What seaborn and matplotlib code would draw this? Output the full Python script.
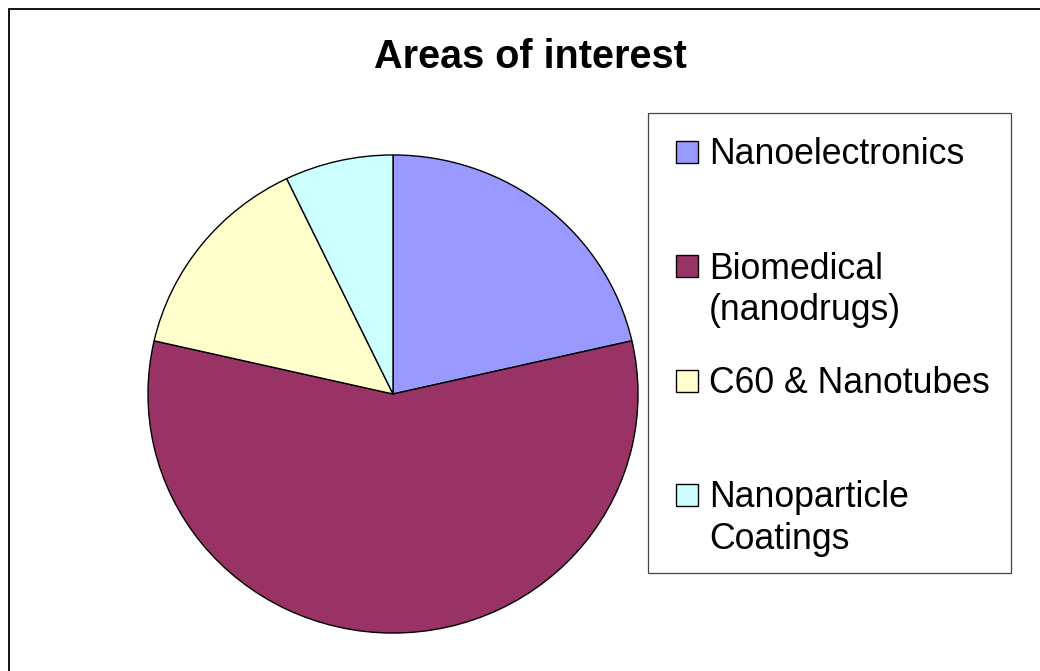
import matplotlib
matplotlib.use("Agg")
import matplotlib.pyplot as plt
from matplotlib.patches import Rectangle
import seaborn as sns

# chart data
categories = ["Nanoelectronics", "Biomedical\n(nanodrugs)", "C60 & Nanotubes", "Nanoparticle\nCoatings"]
shares = [3, 8, 2, 1]
colors = ["#9999FF", "#993366", "#FFFFCC", "#CCFFFF"]
title = "Areas of interest"

W, H = 1040, 671

sns.set_theme(style="white")
plt.rcParams["font.family"] = ["Liberation Sans", "DejaVu Sans"]

fig = plt.figure(figsize=(W / 100, H / 100), dpi=100)
fig.patch.set_facecolor("white")


def fx(px):
    return px / W


def fy(py):
    return 1 - py / H


# pie area (pixel box of the ellipse)
cx, cy, rx, ry = 393, 394, 246, 240
ax = fig.add_axes([fx(cx - rx), fy(cy + ry), 2 * rx / W, 2 * ry / H])
ax.pie(
    shares,
    colors=colors,
    startangle=90,
    counterclock=False,
    wedgeprops=dict(edgecolor="black", linewidth=1.0),
)
ax.set_aspect("auto")
ax.set_xlim(-1.004, 1.004)
ax.set_ylim(-1.004, 1.004)
ax.axis("off")

# title
fig.text(fx(530), fy(57), title, ha="center", va="center",
         fontsize=28.5, fontweight="bold", color="black")

# outer chart frame (only top/left edges fall inside the image)
fig.add_artist(Rectangle((fx(9), -0.2), 1.5, fy(9) + 0.2, transform=fig.transFigure,
                         facecolor="none", edgecolor="black", linewidth=1.3))

# legend box drawn Excel-style: equal spacing between entries
fig.add_artist(Rectangle((fx(648), fy(573)), fx(1011) - fx(648), fy(113) - fy(573),
                         transform=fig.transFigure, facecolor="white",
                         edgecolor="#444444", linewidth=0.9))
first_y, step, line_h = 152, 114.3, 41.5
for i, (lab, col) in enumerate(zip(categories, colors)):
    yc = first_y + i * step
    fig.add_artist(Rectangle((fx(676), fy(yc + 11)), 22 / W, 22 / H,
                             transform=fig.transFigure, facecolor=col,
                             edgecolor="black", linewidth=1.0))
    for j, line in enumerate(lab.split("\n")):
        fig.text(fx(709), fy(yc + 12.5 + j * line_h), line, ha="left",
                 va="baseline", fontsize=25.7, color="black")

fig.savefig("out.png", dpi=100, facecolor="white")
